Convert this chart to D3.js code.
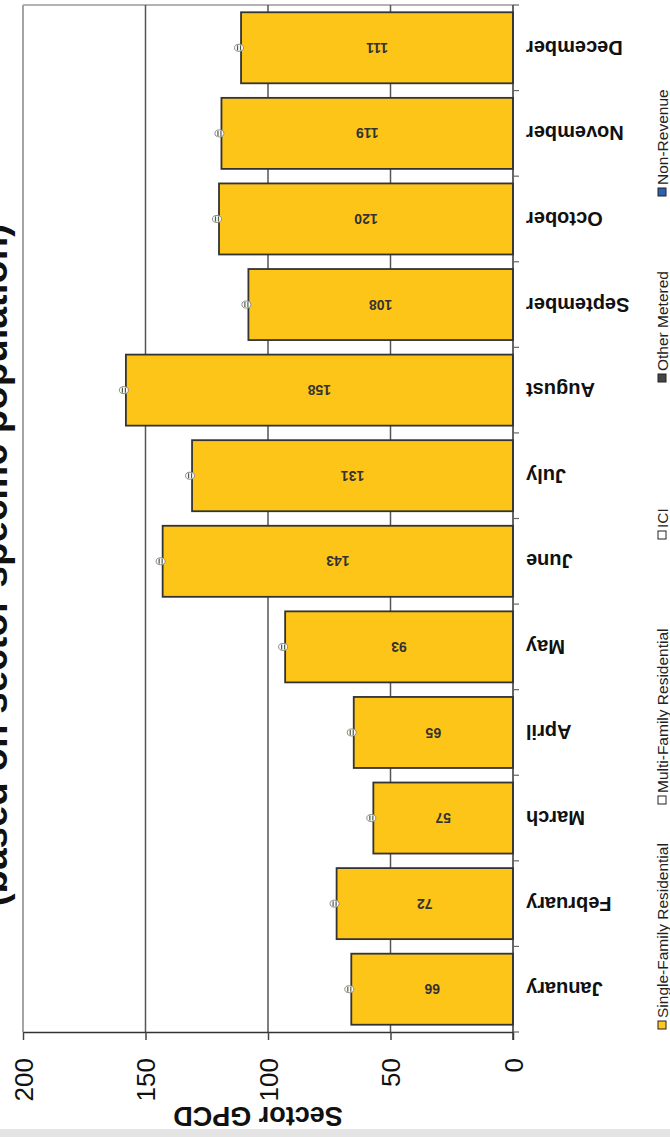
<!DOCTYPE html>
<html>
<head>
<meta charset="utf-8">
<script src="https://cdn.jsdelivr.net/npm/d3@7"></script>
<style>
  body { margin: 0; background: #fff; }
  text { font-family: "Liberation Sans", Arial, sans-serif; }
</style>
</head>
<body>
<div id="vis-container"></div>
<script>
// scanned page, chart lies on its side: value axis runs along the bottom
const width = 670,
      height = 1137,
      margin = {top: 5, bottom: 105, left: 23, right: 157};

// ******* Data *******
var months = ["January", "February", "March", "April", "May", "June",
              "July", "August", "September", "October", "November", "December"];
var singleFamily = [66, 72, 57, 65, 93, 143, 131, 158, 108, 120, 119, 111];
// other sectors are all zero in this chart, only their tiny labels show
var otherSectors = [0, 0, 0, 0, 0, 0, 0, 0, 0, 0, 0, 0];
var valueTicks = [0, 50, 100, 150, 200];
var legendNames = ["Single-Family Residential", "Multi-Family Residential", "ICI", "Other Metered", "Non-Revenue"];
var legendColors = ["#FFC61E", "#ffffff", "#ffffff", "#444444", "#2f5fb3"];
// where each legend swatch sits along the right edge (screen y)
var legendSlots = [1025, 800, 535, 378, 192];

var svg = d3.select("#vis-container").append("svg")
    .attr("width", width)
    .attr("height", height);

// ******* Scales *******
var x = d3.scaleLinear().domain([0, 200]).range([width - margin.right, margin.left]);
var y = d3.scaleBand().domain(months)
    .range([height - margin.bottom, margin.top])
    .paddingInner(0.17)
    .paddingOuter(0.085);

var x0 = x(0), yBottom = height - margin.bottom;

// bottom scanner edge
svg.append("rect").attr("x", 0).attr("y", 1129).attr("width", width).attr("height", 8).attr("fill", "#e4e4e4");

// plot frame (top + left edge, light)
svg.append("line").attr("x1", x(200)).attr("x2", x0).attr("y1", margin.top).attr("y2", margin.top)
    .attr("stroke", "#9a9a9a").attr("stroke-width", 1.5);
svg.append("line").attr("x1", x(200)).attr("x2", x(200)).attr("y1", margin.top).attr("y2", yBottom)
    .attr("stroke", "#a5a5a5").attr("stroke-width", 2);

// gridlines
svg.selectAll("line.grid")
    .data(valueTicks.filter(function(d) {return d > 0 && d < 200;}))
    .enter().append("line")
    .attr("class", "grid")
    .attr("x1", function(d) {return x(d);})
    .attr("x2", function(d) {return x(d);})
    .attr("y1", margin.top)
    .attr("y2", yBottom)
    .attr("stroke", "#555")
    .attr("stroke-width", 1.5);

// ******* Bars *******
svg.selectAll("rect.bar")
    .data(singleFamily)
    .enter().append("rect")
    .attr("class", "bar")
    .attr("x", function(d) {return x(d);})
    .attr("y", function(d, i) {return y(months[i]);})
    .attr("width", function(d) {return x0 - x(d);})
    .attr("height", y.bandwidth())
    .attr("fill", "#FEC519")
    .attr("stroke", "#333")
    .attr("stroke-width", 1.8);

// value labels, upside down like the rest of the scan
svg.selectAll("text.val")
    .data(singleFamily)
    .enter().append("text")
    .attr("class", "val")
    .attr("transform", function(d, i) {
        return `translate(${(x(d) + x0) / 2} ${y(months[i]) + y.bandwidth() / 2}) rotate(180)`;
    })
    .attr("dy", "0.35em")
    .attr("text-anchor", "middle")
    .attr("font-size", 14)
    .attr("font-weight", "bold")
    .attr("fill", "#333")
    .text(function(d) {return d;});

// the stacked zero labels bunch up at the end of every bar
var ends = svg.selectAll("g.zero")
    .data(otherSectors)
    .enter().append("g")
    .attr("class", "zero")
    .attr("transform", function(d, i) {
        return `translate(${x(singleFamily[i] + d) - 2} ${y(months[i]) + y.bandwidth() / 2})`;
    });
ends.append("ellipse").attr("rx", 4.5).attr("ry", 3.5).attr("fill", "#fff").attr("stroke", "#8a8a8a").attr("stroke-width", 1);
ends.append("line").attr("x1", -1.5).attr("x2", -1.5).attr("y1", -2.5).attr("y2", 2.5).attr("stroke", "#4a5a40").attr("stroke-width", 1.2);
ends.append("line").attr("x1", 1.5).attr("x2", 1.5).attr("y1", -2.5).attr("y2", 2.5).attr("stroke", "#4a5a40").attr("stroke-width", 1.2);

// ******* Value axis (bottom) *******
var xAxis = svg.append("g")
    .attr("transform", `translate(0 ${yBottom})`)
    .call(d3.axisBottom(x).tickValues(valueTicks).tickSize(8).tickSizeOuter(0));
xAxis.select(".domain").attr("stroke", "#333").attr("stroke-width", 1.5);
xAxis.selectAll(".tick line").attr("stroke", "#444").attr("stroke-width", 1.5);
xAxis.selectAll(".tick text")
    .attr("transform", "rotate(-90)")
    .attr("x", -26)
    .attr("y", 0)
    .attr("dy", "0.35em")
    .attr("text-anchor", "end")
    .attr("font-size", 26)
    .attr("font-family", "Liberation Sans, Arial, sans-serif")
    .attr("fill", "#111");

svg.append("text")
    .attr("transform", `translate(${(x(0) + x(200)) / 2 - 10} 1106) rotate(180)`)
    .attr("text-anchor", "middle")
    .attr("dy", "-0.02em")
    .attr("font-size", 27)
    .attr("font-weight", "bold")
    .attr("fill", "#111")
    .text("Sector GPCD");

// ******* Category axis (right) *******
svg.append("line").attr("x1", x0).attr("x2", x0).attr("y1", margin.top).attr("y2", yBottom + 8)
    .attr("stroke", "#333").attr("stroke-width", 1.5);
var bounds = months.map(function(m) {return y(m) + y.bandwidth() + y.step() * y.paddingInner() / 2;});
bounds.push(y("December") - y.step() * y.paddingInner() / 2);
svg.selectAll("line.ctick")
    .data(bounds)
    .enter().append("line")
    .attr("class", "ctick")
    .attr("x1", x0).attr("x2", x0 + 6)
    .attr("y1", function(d) {return d;})
    .attr("y2", function(d) {return d;})
    .attr("stroke", "#666").attr("stroke-width", 1.2);

svg.selectAll("text.month")
    .data(months)
    .enter().append("text")
    .attr("class", "month")
    .attr("transform", function(d) {return `translate(${x0 + 13} ${y(d) + y.bandwidth() / 2}) rotate(180)`;})
    .attr("dy", "0.35em")
    .attr("text-anchor", "end")
    .attr("font-size", 20)
    .attr("font-weight", "bold")
    .attr("fill", "#111")
    .text(function(d) {return d;});

// ******* Title (mostly cut off at the left edge) *******
svg.append("text")
    .attr("transform", "translate(7 565) rotate(-90)")
    .attr("text-anchor", "middle")
    .attr("font-size", 38.5)
    .attr("font-weight", "bold")
    .attr("fill", "#111")
    .text("(based on sector specific population)");

// ******* Legend (right edge, reads bottom to top) *******
var legend = svg.selectAll("g.legend")
    .data(legendNames)
    .enter().append("g")
    .attr("class", "legend")
    .attr("transform", function(d, i) {return `translate(662 ${legendSlots[i]}) rotate(-90)`;});
legend.append("rect")
    .attr("x", -4).attr("y", -4).attr("width", 8).attr("height", 8)
    .attr("fill", function(d, i) {return legendColors[i];})
    .attr("stroke", "#222").attr("stroke-width", 1);
legend.append("text")
    .attr("x", 7).attr("dy", "0.36em")
    .attr("font-size", 15.5)
    .attr("fill", "#222")
    .text(function(d) {return d;});
</script>
</body>
</html>
